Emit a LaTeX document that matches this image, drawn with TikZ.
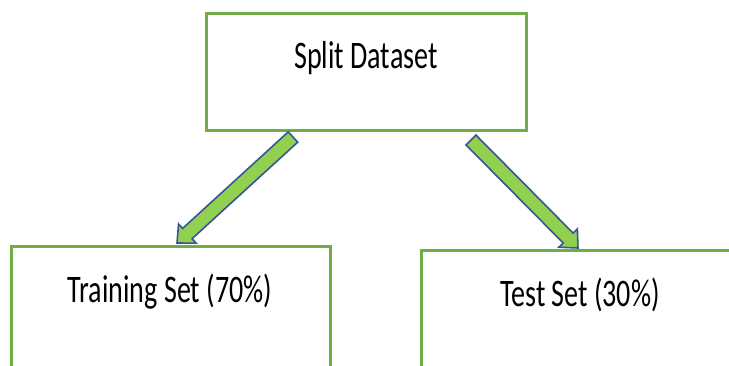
\documentclass[tikz,border=0pt]{standalone}
\usepackage{fontspec}
\setmainfont{Carlito}[FakeStretch=0.72]
\usepackage{xcolor}
\usepackage{tikz}
\usetikzlibrary{calc}
\definecolor{boxgreen}{RGB}{112, 173, 71}
\definecolor{arrowfill}{RGB}{146, 208, 80}
\definecolor{arrowline}{RGB}{54, 86, 148}

% block arrow from #1 to #2
\newcommand\blockarrow[2]{%
  \coordinate (neck) at ($(#2)!14pt!(#1)$);
  \draw[blockarrow] ($(#1)!7pt!90:(#2)$) -- ($(neck)!7pt!90:(#2)$)
    -- ($(neck)!13pt!90:(#2)$) -- (#2) -- ($(neck)!13pt!-90:(#2)$)
    -- ($(neck)!7pt!-90:(#2)$) -- ($(#1)!7pt!-90:(#2)$) -- cycle;}

\begin{document}
\begin{tikzpicture}[x=1pt, y=-1pt,
  box/.style={draw=boxgreen, line width=3pt, fill=white, inner sep=0pt},
  label/.style={anchor=base, font=\fontsize{39}{46}\selectfont, inner sep=0pt},
  blockarrow/.style={fill=arrowfill, draw=arrowline, line width=1.6pt, line join=miter}]
\useasboundingbox (0,0) rectangle (729,365);
\clip (0,0) rectangle (729,365);

% Boxes
\node[box, minimum width=320pt, minimum height=117pt] (split) at (366,71.5) {};
\node[box, minimum width=319pt, minimum height=140pt] (train) at (170.5,316) {};
\node[box, minimum width=324pt, minimum height=140pt] (test) at (583,320) {};

% Texts
\node[label] (splittxt) at (366,68) {Split Dataset};
\node[label] (traintxt) at (170,302) {Training Set (70\%)};
\node[label] (testtxt) at (580,306) {Test Set (30\%)};

% Arrows
\coordinate (trainfrom) at (293,137);
\coordinate (trainto) at (177,243);
\coordinate (testfrom) at (471,140);
\coordinate (testto) at (578,248);
\blockarrow{trainfrom}{trainto}
\blockarrow{testfrom}{testto}
\end{tikzpicture}
\end{document}
